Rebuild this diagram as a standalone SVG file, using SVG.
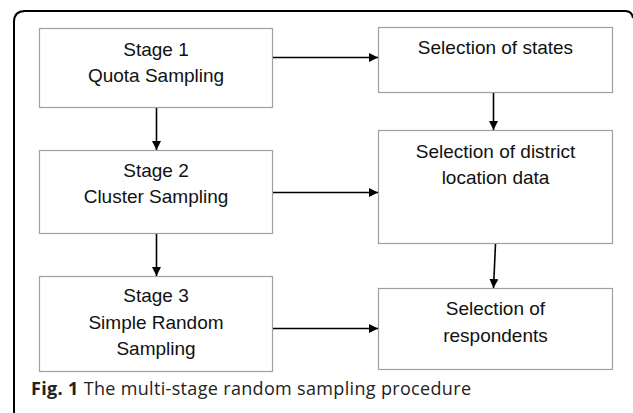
<svg xmlns="http://www.w3.org/2000/svg" width="633" height="413" viewBox="0 0 633 413">
<defs>
<marker id="ah" markerWidth="10" markerHeight="10" refX="9" refY="4.5" orient="auto" markerUnits="userSpaceOnUse">
<path d="M0,0 L9,4.5 L0,9 Z" fill="#000"/>
</marker>
<style>
.box{fill:#fff;stroke:#a0a0a0;stroke-width:1.2}
.lbl{font-family:"Liberation Sans",Arial,sans-serif;font-size:19px;fill:#111;text-anchor:middle}
.conn line{stroke:#000;stroke-width:1.6;marker-end:url(#ah)}
.cap{font-family:"Open Sans","Liberation Sans",sans-serif;font-size:18px;fill:#222}
</style>
</defs>
<rect width="633" height="413" fill="#fff"/>
<path d="M14,413 L14,22 Q14,11 25,11 L625,11 Q632,11 633,18" fill="none" stroke="#000" stroke-width="2"/>
<g id="stage1"><rect class="box" x="39.5" y="28.5" width="233" height="79"/>
<text class="lbl" x="156" y="56">Stage 1</text><text class="lbl" x="156" y="81.5">Quota Sampling</text></g>
<g id="stage2"><rect class="box" x="39.5" y="150.5" width="233" height="83"/>
<text class="lbl" x="156" y="177">Stage 2</text><text class="lbl" x="156" y="203">Cluster Sampling</text></g>
<g id="stage3"><rect class="box" x="39.5" y="276.5" width="233" height="95"/>
<text class="lbl" x="156" y="302">Stage 3</text><text class="lbl" x="156" y="329">Simple Random</text><text class="lbl" x="156" y="355">Sampling</text></g>
<g id="states"><rect class="box" x="378.5" y="27.5" width="234" height="65"/>
<text class="lbl" x="495.5" y="54">Selection of states</text></g>
<g id="district"><rect class="box" x="378.5" y="130.5" width="234" height="113"/>
<text class="lbl" x="495.5" y="157.5">Selection of district</text><text class="lbl" x="495.5" y="183.5">location data</text></g>
<g id="respondents"><rect class="box" x="378.5" y="288.5" width="234" height="81"/>
<text class="lbl" x="495.5" y="315">Selection of</text><text class="lbl" x="495.5" y="341.5">respondents</text></g>
<g id="connectors" class="conn">
<line x1="273" y1="57.5" x2="378" y2="57.5"/>
<line x1="273" y1="192.5" x2="378" y2="192.5"/>
<line x1="273" y1="328.5" x2="378" y2="328.5"/>
<line x1="156.5" y1="108" x2="156.5" y2="150"/>
<line x1="156.5" y1="234" x2="156.5" y2="276"/>
<line x1="493.5" y1="93" x2="493.5" y2="130"/>
<line x1="495.5" y1="244" x2="493.5" y2="288"/>
</g>
<text class="cap" x="31" y="395" textLength="440" lengthAdjust="spacing"><tspan font-weight="bold">Fig. 1</tspan> The multi-stage random sampling procedure</text>
</svg>
